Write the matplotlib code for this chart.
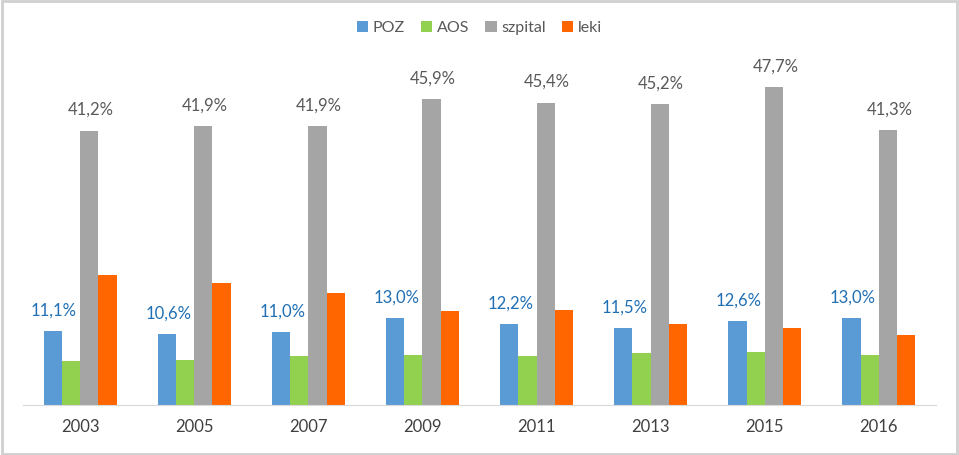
import matplotlib
matplotlib.use("Agg")
import matplotlib.pyplot as plt
import numpy as np
from matplotlib.patches import Rectangle

plt.rcParams['font.family'] = ['Lato', 'DejaVu Sans']

years = ["2003", "2005", "2007", "2009", "2011", "2013", "2015", "2016"]
poz = [11.1, 10.6, 11.0, 13.0, 12.2, 11.5, 12.6, 13.0]
aos = [6.6, 6.8, 7.3, 7.5, 7.3, 7.8, 7.9, 7.5]
szpital = [41.2, 41.9, 41.9, 45.9, 45.4, 45.2, 47.7, 41.3]
leki = [19.5, 18.3, 16.8, 14.1, 14.2, 12.1, 11.5, 10.5]

series = [("POZ", poz, "#5B9BD5"), ("AOS", aos, "#92D050"),
          ("szpital", szpital, "#A5A5A5"), ("leki", leki, "#FF6600")]

fig = plt.figure(figsize=(9.59, 4.55), dpi=100)
ax = fig.add_axes([0.024, 0.110, 0.952, 0.732])

x = np.arange(len(years))
w = 0.16
for k, (name, vals, col) in enumerate(series):
    pos = x + (k - 1.5) * w
    bars = ax.bar(pos, vals, width=w, color=col, label=name, linewidth=0)
    if name == "POZ":
        for p, v in zip(pos, vals):
            ax.annotate(f"{v:.1f}%".replace(".", ","), (p, v), xytext=(1, 9),
                        textcoords="offset points", ha="center", va="bottom",
                        fontsize=12, color="#1F6FB5")
    if name == "szpital":
        for p, v in zip(pos, vals):
            ax.annotate(f"{v:.1f}%".replace(".", ","), (p, v), xytext=(1, 9),
                        textcoords="offset points", ha="center", va="bottom",
                        fontsize=12, color="#595959")

ax.set_xlim(-0.5, len(years) - 0.5)
ax.set_ylim(0, 50)
ax.set_xticks(x, labels=years)
ax.tick_params(axis="x", length=0, labelsize=12, labelcolor="#404040", pad=10)
ax.set_yticks([])
for s in ["top", "left", "right"]:
    ax.spines[s].set_visible(False)
ax.spines["bottom"].set_color("#D9D9D9")

leg = fig.legend(loc="center", bbox_to_anchor=(0.5, 1 - 28 / 455), ncol=4,
                 frameon=False, fontsize=11.5, handlelength=0.7, handleheight=0.7,
                 handletextpad=0.3, columnspacing=1.0)
for t in leg.get_texts():
    t.set_color("#595959")

fig.patches.append(Rectangle((0.002, 0.003), 0.996, 0.994, transform=fig.transFigure,
                             fill=False, edgecolor="#D0D0D0", linewidth=2))

fig.savefig("out.png", dpi=100)
